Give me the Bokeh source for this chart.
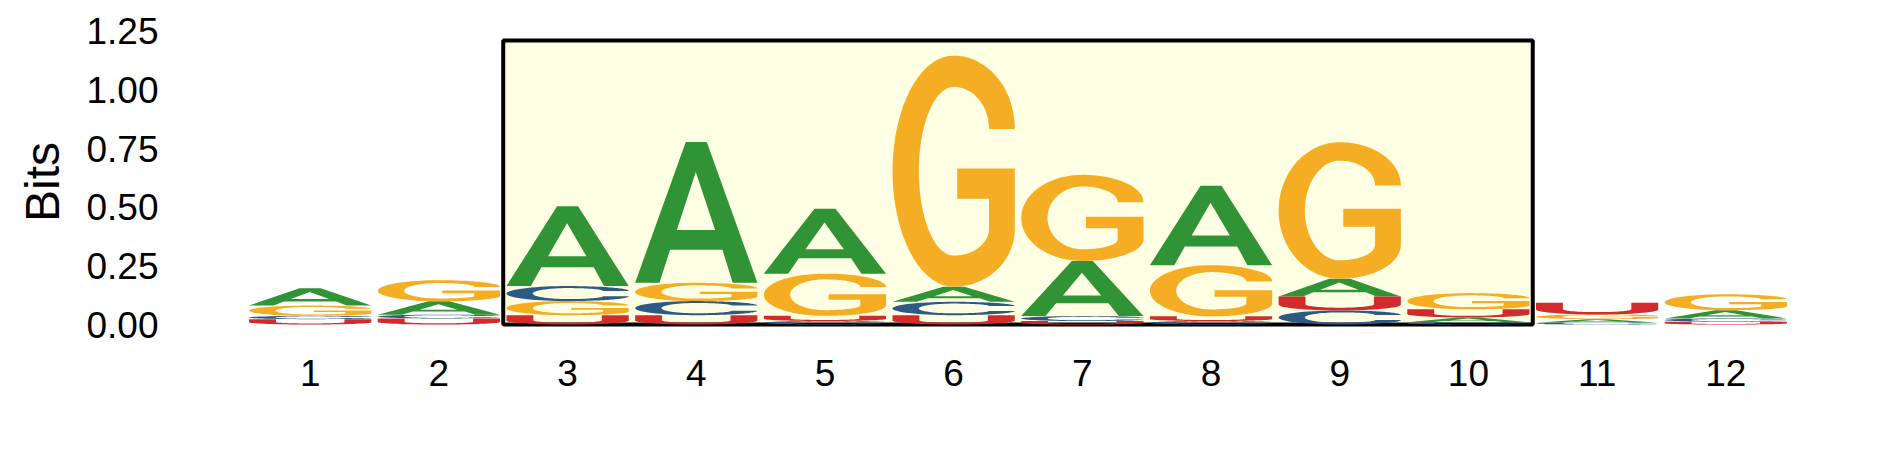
import numpy as np
from bokeh.plotting import figure
from bokeh.models import FixedTicker, NumeralTickFormatter
from bokeh.embed import file_html
from bokeh.resources import INLINE

# ---------------- data ----------------
positions = list(range(1, 13))
tick_labels = [str(i) for i in positions]
y_ticks = [0.0, 0.25, 0.5, 0.75, 1.0, 1.25]
# letter stacking order per position, bottom -> top
stack_order = ["UCGA", "UCAG", "UGCA", "UCGA", "CUGA", "UCAG",
               "UCAG", "CUGA", "CUAG", "CAUG", "CAGU", "UCAG"]
bits_A = [0.074, 0.057, 0.340, 0.600, 0.277, 0.064, 0.235, 0.338, 0.075, 0.020, 0.015, 0.035]
bits_C = [0.014, 0.016, 0.064, 0.060, 0.015, 0.057, 0.021, 0.015, 0.060, 0.010, 0.008, 0.014]
bits_G = [0.044, 0.090, 0.060, 0.078, 0.180, 0.985, 0.367, 0.218, 0.582, 0.069, 0.020, 0.068]
bits_U = [0.023, 0.026, 0.040, 0.040, 0.022, 0.040, 0.015, 0.020, 0.060, 0.035, 0.050, 0.012]
highlight_first = 3
highlight_last = 10
highlight_top = 1.21

colors = {"A": "#309336", "C": "#2d5a85", "G": "#f5ae23", "U": "#d32b2b"}
bits = {"A": bits_A, "C": bits_C, "G": bits_G, "U": bits_U}

# ------------- letter shapes in a unit box -------------
def arc(cx, cy, rx, ry, a0, a1, n=36):
    t = np.radians(np.linspace(a0, a1, n))
    return list(cx + rx * np.cos(t)), list(cy + ry * np.sin(t))

def chain(*parts):
    xs, ys = [], []
    for px, py in parts:
        xs += list(px)
        ys += list(py)
    return xs, ys

def shape_A():
    outer = [(0, 0), (0.414, 1), (0.586, 1), (1, 0), (0.798, 0), (0.714, 0.235),
             (0.286, 0.235), (0.199, 0)]
    hole = [(0.341, 0.375), (0.654, 0.375), (0.496, 0.787)]
    return [([q[0] for q in outer], [q[1] for q in outer]),
            ([q[0] for q in hole], [q[1] for q in hole])]

def shape_C():
    xs, ys = chain(
        arc(0.5, 0.68, 0.5, 0.32, 0, 90),
        arc(0.5, 0.5, 0.5, 0.5, 90, 270),
        arc(0.5, 0.32, 0.5, 0.32, 270, 360),
        arc(0.5, 0.32, 0.289, 0.185, 0, -90),
        arc(0.5, 0.5, 0.285, 0.365, -90, -270),
        arc(0.5, 0.68, 0.289, 0.185, 90, 0),
    )
    return [(xs, ys)]

def shape_G():
    xs, ys = chain(
        arc(0.5, 0.683, 0.5, 0.317, 0, 90),
        arc(0.5, 0.5, 0.5, 0.5, 90, 270),
        arc(0.5, 0.25, 0.5, 0.25, 270, 360),
        ([1.0, 0.529, 0.529, 0.789], [0.512, 0.512, 0.381, 0.381]),
        arc(0.5, 0.25, 0.289, 0.115, 0, -90),
        arc(0.5, 0.5, 0.285, 0.365, -90, -270),
        arc(0.5, 0.683, 0.289, 0.182, 90, 0),
    )
    return [(xs, ys)]

def shape_U():
    ox, oy = arc(0.5, 0.42, 0.5, 0.42, 180, 360)
    ix, iy = arc(0.5, 0.44, 0.28, 0.24, 360, 180)
    xs = [0.0] + ox + [1.0, 0.78] + ix + [0.22]
    ys = [1.0] + oy + [1.0, 1.0] + iy + [1.0]
    return [(xs, ys)]

shapes = {"A": shape_A(), "C": shape_C(), "G": shape_G(), "U": shape_U()}
letter_width = 0.95

glyphs = {k: {"xs": [], "ys": []} for k in "ACGU"}
for i, pos in enumerate(positions):
    base = 0.0
    for letter in stack_order[i]:
        h = bits[letter][i]
        rings_x, rings_y = [], []
        for ux, uy in shapes[letter]:
            rings_x.append(list(pos - letter_width / 2 + letter_width * np.array(ux)))
            rings_y.append(list(base + h * np.array(uy)))
        glyphs[letter]["xs"].append([rings_x])
        glyphs[letter]["ys"].append([rings_y])
        base += h

# ---------------- figure ----------------
p = figure(frame_width=1673, frame_height=325, x_range=(0, 13), y_range=(-0.085, 1.3),
           min_border_left=181, min_border_right=10, min_border_top=19, min_border_bottom=112,
           output_backend="svg", toolbar_location=None, background_fill_color="white")

p.quad(left=highlight_first - 0.5, right=highlight_last + 0.5, bottom=0, top=highlight_top,
       fill_color="#ffffe3", line_color="black", line_width=4)

for letter in "ACGU":
    p.multi_polygons(xs=glyphs[letter]["xs"], ys=glyphs[letter]["ys"],
                     fill_color=colors[letter], line_color=None)

p.grid.visible = False
p.outline_line_color = None
for ax in (p.xaxis, p.yaxis):
    ax.axis_line_color = None
    ax.major_tick_line_color = None
    ax.minor_tick_line_color = None
    ax.major_tick_out = 0
    ax.major_tick_in = 0
    ax.major_label_text_font = "Liberation Sans"
    ax.major_label_text_font_size = "37px"
    ax.major_label_text_color = "black"

p.yaxis.ticker = FixedTicker(ticks=y_ticks)
p.yaxis.formatter = NumeralTickFormatter(format="0.00")
p.yaxis.major_label_standoff = 23
p.yaxis.axis_label = "Bits"
p.yaxis.axis_label_text_font = "Liberation Sans"
p.yaxis.axis_label_text_font_style = "normal"
p.yaxis.axis_label_text_font_size = "48px"
p.yaxis.axis_label_text_color = "black"
p.yaxis.axis_label_standoff = 14

p.xaxis.ticker = FixedTicker(ticks=positions)
p.xaxis.major_label_overrides = {pos: lab for pos, lab in zip(positions, tick_labels)}
p.xaxis.major_label_standoff = 15

open("out.html", "w").write(file_html(p, INLINE))
